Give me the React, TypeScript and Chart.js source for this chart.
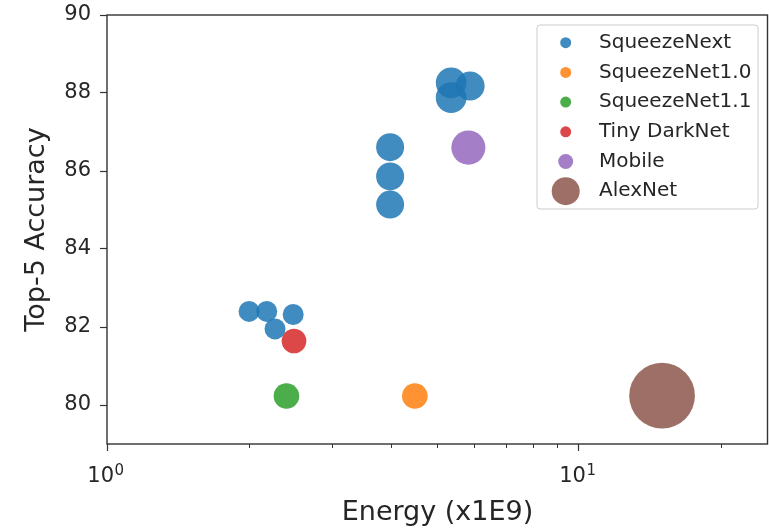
import React, { useEffect, useRef } from "react";
import { Chart, registerables } from "chart.js";

Chart.register(...registerables);

// ---------- data ----------
const seriesNames = ["SqueezeNext", "SqueezeNet1.0", "SqueezeNet1.1", "Tiny DarkNet", "Mobile", "AlexNet"];

const squeezeNextEnergy = [2.0, 2.18, 2.48, 2.27, 3.98, 3.98, 3.98, 5.36, 5.36, 5.88];
const squeezeNextAccuracy = [82.4, 82.4, 82.32, 81.95, 86.61, 85.86, 85.14, 88.26, 87.88, 88.18];
const squeezeNextSize = [110, 110, 110, 110, 196, 196, 196, 235, 235, 210];

const squeezeNet10Energy = [4.49];
const squeezeNet10Accuracy = [80.23];
const squeezeNet10Size = [164];

const squeezeNet11Energy = [2.4];
const squeezeNet11Accuracy = [80.23];
const squeezeNet11Size = [164];

const tinyDarkNetEnergy = [2.49];
const tinyDarkNetAccuracy = [81.64];
const tinyDarkNetSize = [152];

const mobileEnergy = [5.83];
const mobileAccuracy = [86.6];
const mobileSize = [290];

const alexNetEnergy = [15.0];
const alexNetAccuracy = [80.24];
const alexNetSize = [1080];

const xMajorTicks = [1, 10];
const xMajorTickBase = ["10", "10"];
const xMajorTickExponent = ["0", "1"];
const xMinorTicks = [2, 3, 4, 5, 6, 7, 8, 9, 20];
const yTicks = [80, 82, 84, 86, 88, 90];

const xTitle = "Energy (x1E9)";
const yTitle = "Top-5 Accuracy";

// ---------- styles ----------
const seriesColors = [
  "rgba(31,119,180,0.85)",
  "rgba(255,127,14,0.85)",
  "rgba(44,160,44,0.85)",
  "rgba(214,39,40,0.85)",
  "rgba(148,103,189,0.85)",
  "rgba(140,86,75,0.85)",
];
const legendMarkerRadius = [5.5, 5.5, 5.5, 5.5, 7.5, 14];
const FONT = "'DejaVu Sans', sans-serif";
const TEXT = "#262626";
const AXIS = "#333333";

const allSeries = [
  [squeezeNextEnergy, squeezeNextAccuracy, squeezeNextSize],
  [squeezeNet10Energy, squeezeNet10Accuracy, squeezeNet10Size],
  [squeezeNet11Energy, squeezeNet11Accuracy, squeezeNet11Size],
  [tinyDarkNetEnergy, tinyDarkNetAccuracy, tinyDarkNetSize],
  [mobileEnergy, mobileAccuracy, mobileSize],
  [alexNetEnergy, alexNetAccuracy, alexNetSize],
];

const decorPlugin = {
  id: "decor",
  afterDraw(chart: any) {
    const { ctx, chartArea } = chart;
    const xs = chart.scales.x;
    ctx.save();
    // minor ticks
    ctx.strokeStyle = AXIS;
    ctx.lineWidth = 1;
    xMinorTicks.forEach((v) => {
      const px = Math.round(xs.getPixelForValue(v)) + 0.5;
      if (px > chartArea.right) return;
      ctx.beginPath();
      ctx.moveTo(px, chartArea.bottom);
      ctx.lineTo(px, chartArea.bottom + 4);
      ctx.stroke();
    });
    // major tick labels with superscript exponent
    ctx.fillStyle = TEXT;
    ctx.textBaseline = "alphabetic";
    xMajorTicks.forEach((v, i) => {
      const px = xs.getPixelForValue(v);
      ctx.font = `21px ${FONT}`;
      ctx.textAlign = "right";
      ctx.fillText(xMajorTickBase[i], px + 7, chartArea.bottom + 38);
      ctx.font = `15px ${FONT}`;
      ctx.textAlign = "left";
      ctx.fillText(xMajorTickExponent[i], px + 7.5, chartArea.bottom + 31);
    });
    // frame
    ctx.lineWidth = 1.4;
    ctx.strokeStyle = AXIS;
    ctx.strokeRect(chartArea.left, chartArea.top, chartArea.right - chartArea.left - 0.5, chartArea.bottom - chartArea.top);

    // legend
    const lx = 537, ly = 25, lw = 221, lh = 184, rad = 3;
    ctx.beginPath();
    ctx.moveTo(lx + rad, ly);
    ctx.lineTo(lx + lw - rad, ly);
    ctx.arcTo(lx + lw, ly, lx + lw, ly + rad, rad);
    ctx.lineTo(lx + lw, ly + lh - rad);
    ctx.arcTo(lx + lw, ly + lh, lx + lw - rad, ly + lh, rad);
    ctx.lineTo(lx + rad, ly + lh);
    ctx.arcTo(lx, ly + lh, lx, ly + lh - rad, rad);
    ctx.lineTo(lx, ly + rad);
    ctx.arcTo(lx, ly, lx + rad, ly, rad);
    ctx.closePath();
    ctx.fillStyle = "rgba(255,255,255,0.8)";
    ctx.fill();
    ctx.strokeStyle = "#cccccc";
    ctx.lineWidth = 1;
    ctx.stroke();

    ctx.font = `20px ${FONT}`;
    ctx.textBaseline = "middle";
    ctx.textAlign = "left";
    chart.data.datasets.forEach((ds: any, i: number) => {
      const cy = 42.7 + i * 29.7;
      ctx.beginPath();
      ctx.arc(565.7, cy, legendMarkerRadius[i], 0, Math.PI * 2);
      ctx.fillStyle = ds.backgroundColor;
      ctx.fill();
      ctx.fillStyle = TEXT;
      ctx.fillText(ds.label, 599, cy);
    });
    ctx.restore();
  },
};

export default function App() {
  const ref = useRef<HTMLCanvasElement | null>(null);
  useEffect(() => {
    document.body.style.margin = "0";
    const canvas = ref.current!;
    const datasets = allSeries.map(([ex, ac, sz], i) => ({
      label: seriesNames[i],
      data: ex.map((x, j) => ({ x, y: ac[j], r: Math.sqrt(sz[j]) })),
      backgroundColor: seriesColors[i],
      borderWidth: 0,
      hoverBorderWidth: 0,
      order: seriesNames.length - i,
    }));
    const chart = new Chart(canvas, {
      type: "bubble",
      data: { datasets },
      options: {
        animation: false,
        responsive: false,
        layout: { autoPadding: false, padding: { top: 15, right: 1, left: 0, bottom: 0 } },
        plugins: { legend: { display: false }, tooltip: { enabled: false } },
        scales: {
          x: {
            type: "logarithmic",
            min: 1,
            max: 25.15,
            afterBuildTicks: (s: any) => {
              s.ticks = xMajorTicks.map((v) => ({ value: v }));
            },
            afterFit: (s: any) => {
              s.height = 86;
              s.paddingLeft = 0;
              s.paddingRight = 0;
              s.paddingTop = 0;
              s.paddingBottom = 0;
            },
            border: { display: false },
            grid: { drawOnChartArea: false, drawTicks: true, tickLength: 7, tickColor: AXIS, tickWidth: 1.2 },
            ticks: {
              autoSkip: false,
              maxRotation: 0,
              padding: 5,
              color: TEXT,
              font: { family: FONT, size: 21 },
              callback: () => "",
            },
            title: {
              display: true,
              text: xTitle,
              color: TEXT,
              font: { family: FONT, size: 27, lineHeight: 1 },
              padding: { top: 0, bottom: 4 },
            },
          },
          y: {
            type: "linear",
            min: 79,
            max: 90,
            afterBuildTicks: (s: any) => {
              s.ticks = yTicks.map((v) => ({ value: v }));
            },
            afterFit: (s: any) => {
              s.width = 107;
              s.paddingLeft = 0;
              s.paddingRight = 0;
              s.paddingTop = 0;
              s.paddingBottom = 0;
            },
            border: { display: false },
            grid: { drawOnChartArea: false, drawTicks: true, tickLength: 7, tickColor: AXIS, tickWidth: 1.2 },
            ticks: {
              padding: 9,
              color: TEXT,
              font: { family: FONT, size: 21 },
              callback: (v: any) => String(v),
            },
            title: {
              display: true,
              text: yTitle,
              color: TEXT,
              font: { family: FONT, size: 27, lineHeight: 1 },
              padding: { top: 23, bottom: 0 },
            },
          },
        },
      },
      plugins: [decorPlugin],
    } as any);
    return () => chart.destroy();
  }, []);
  return (
    <div style={{ width: 769, height: 530 }}>
      <canvas ref={ref} width={769} height={530} style={{ display: "block" }} />
    </div>
  );
}
